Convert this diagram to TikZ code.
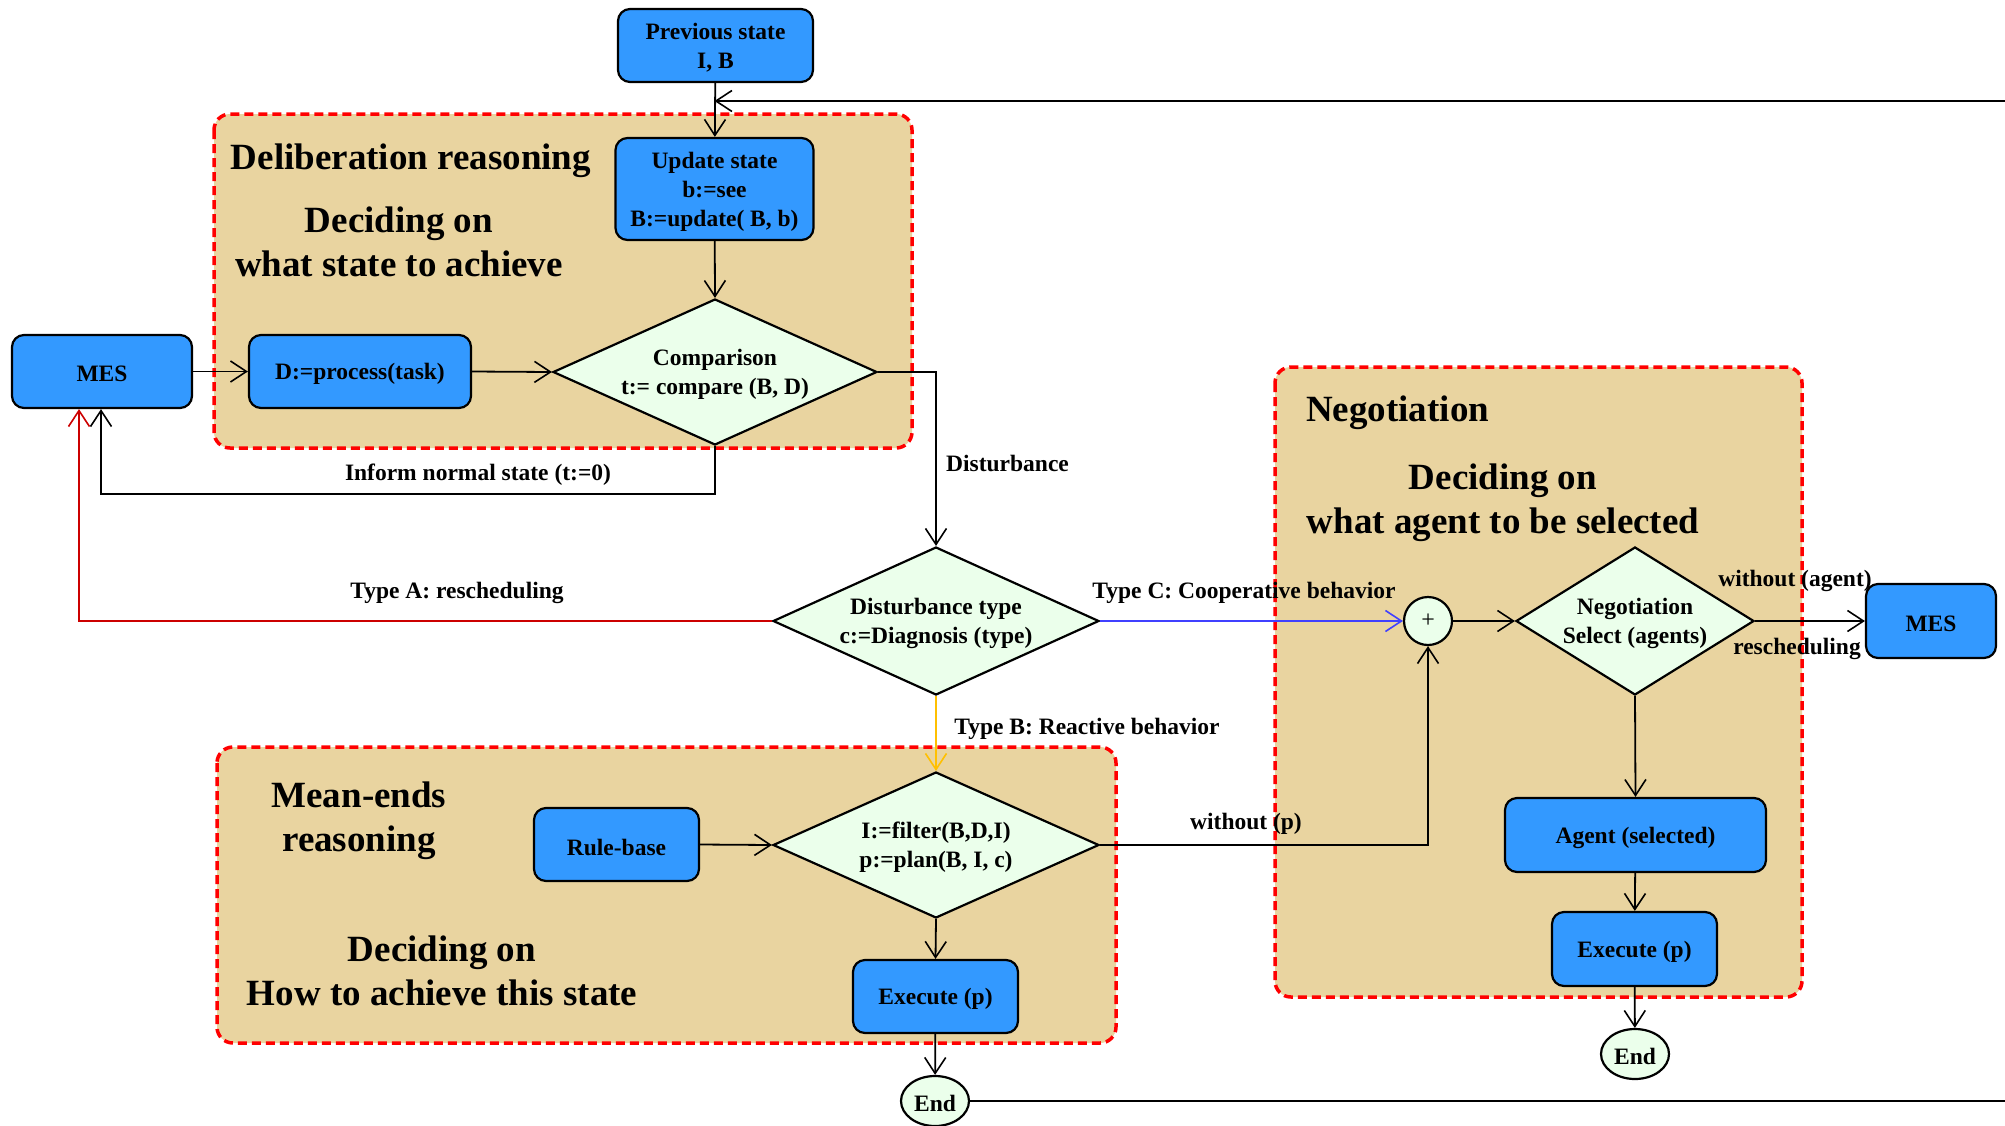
\documentclass[tikz,border=0pt]{standalone}
\usepackage{fontspec}
\setmainfont{Liberation Serif}
\usetikzlibrary{shapes.geometric,arrows.meta,calc}

\definecolor{boxblue}{RGB}{51,153,255}
\definecolor{decgreen}{RGB}{235,255,235}
\definecolor{parch}{RGB}{233,212,160}
\definecolor{areared}{RGB}{255,0,0}
\definecolor{pathA}{RGB}{204,0,0}
\definecolor{pathB}{RGB}{255,192,0}
\definecolor{pathC}{RGB}{64,64,255}

\newcommand\nodetextfont{\fontsize{23.5}{29}\selectfont\bfseries}
\newcommand\areatitlefont{\fontsize{37}{44}\selectfont\bfseries}

\tikzset{
  flow/.style={line width=1.8pt, -{Straight Barb[length=16pt,width=21pt,line width=1.6pt]}},
  plainline/.style={line width=1.8pt},
  tag/.style={font=\nodetextfont, inner sep=0pt, align=center},
  intext/.style={tag, yshift=-2.5pt},
  boxtext/.style={label={[intext]center:#1}},
  bluebox/.style={draw, line width=2.2pt, fill=boxblue, rounded corners=12pt, inner sep=0pt},
  decision/.style={draw, line width=2.2pt, fill=decgreen, diamond, inner sep=0pt},
  endnode/.style={draw, line width=2.2pt, fill=decgreen, ellipse, inner sep=0pt,
    minimum width=68pt, minimum height=50pt},
  area/.style={draw=areared, line width=3.5pt, dash pattern=on 9pt off 5pt,
    fill=parch, rounded corners=16pt},
  heading/.style={font=\areatitlefont, align=center, inner sep=0pt},
}

\begin{document}
\begin{tikzpicture}[x=1pt,y=-1pt]
\useasboundingbox (0,0) rectangle (2005,1125);

% reasoning areas
\draw[area] (214,114) rectangle (912,448);
\draw[area] (1275,367) rectangle (1802,997);
\draw[area] (217,747) rectangle (1116,1043);

% area titles
\node[heading] (delibT) at (411,161) {Deliberation reasoning};
\node[heading] (delibD) at (399,242) {Deciding on\\what state to achieve};
\node[heading, anchor=west] (negT) at (1306,413) {Negotiation};
\node[heading] (negD) at (1503,503) {Deciding on\\what agent to be selected};
\node[heading] (meanT) at (359,821) {Mean-ends\\reasoning};
\node[heading] (meanD) at (442,971) {Deciding on\\How to achieve this state};

% process boxes
\node[bluebox, minimum width=195pt, minimum height=73pt,
  boxtext={Previous state\\I, B}] (prev) at (715.5,45.5) {};
\node[bluebox, minimum width=198pt, minimum height=102pt,
  boxtext={Update state\\b:=see\\B:=update( B, b)}] (upd) at (714.5,189) {};
\node[bluebox, minimum width=180pt, minimum height=73pt, boxtext={MES}] (mesL) at (102,371.5) {};
\node[bluebox, minimum width=222pt, minimum height=73pt, boxtext={D:=process(task)}] (proc) at (360,371.5) {};
\node[bluebox, minimum width=130pt, minimum height=74pt, boxtext={MES}] (mesR) at (1931,621) {};
\node[bluebox, minimum width=261pt, minimum height=74pt, boxtext={Agent (selected)}] (agent) at (1635.5,835) {};
\node[bluebox, minimum width=165pt, minimum height=74pt, boxtext={Execute (p)}] (exR) at (1634.5,949) {};
\node[bluebox, minimum width=165pt, minimum height=73pt, boxtext={Rule-base}] (rule) at (616.5,844.5) {};
\node[bluebox, minimum width=165pt, minimum height=73pt, boxtext={Execute (p)}] (exL) at (935.5,996.5) {};

% decisions
\node[decision, minimum width=324pt, minimum height=146pt] (comp) at (715,372) {};
\node[intext] (compT) at (comp.center) {Comparison\\t:= compare (B, D)};
\node[decision, minimum width=326pt, minimum height=148pt] (dist) at (936,621) {};
\node[intext] (distT) at (dist.center) {Disturbance type\\c:=Diagnosis (type)};
\node[decision, minimum width=326pt, minimum height=146pt] (filt) at (936,845) {};
\node[intext] (filtT) at (filt.center) {I:=filter(B,D,I)\\p:=plan(B, I, c)};
\node[decision, minimum width=238pt, minimum height=148pt] (neg) at (1635,621) {};
\node[intext] (negLbl) at (neg.center) {Negotiation\\Select (agents)};

% junction and terminals
\node[draw, line width=2.2pt, fill=decgreen, circle, minimum size=48pt, inner sep=0pt,
  font=\fontsize{24}{24}\selectfont] (plus) at (1428,621) {+};
\node[endnode, boxtext={End}] (endL) at (935,1101) {};
\node[endnode, boxtext={End}] (endR) at (1635,1054) {};

% helper points
\coordinate (fbTop) at (2005,101);
\coordinate (fbEnd) at (2005,1101);
\coordinate (ret) at (101,494);
\coordinate (aret) at (79,621);

% connectors
\draw[flow] (prev) -- (upd);
\draw[flow] (fbTop) -- (fbTop -| upd.north);
\draw[flow] (upd) -- (comp.north);
\draw[flow] (mesL) -- (proc);
\draw[flow] (proc.east) -- (comp.west);
\draw[flow] (comp.east) -| (dist.north);
\draw[flow] (comp.south) |- (ret) -- (ret |- mesL.south);
\draw[flow, pathA, line width=1.5pt] (dist.west) -- (aret) -- (aret |- mesL.south);
\draw[flow, pathC, line width=1.5pt] (dist.east) -- (plus.west);
\draw[flow, pathB, line width=1.5pt] (dist.south) -- (filt.north);
\draw[flow] (filt.east) -| (plus.south);
\draw[flow] (plus.east) -- (neg.west);
\draw[flow] (neg.east) -- (mesR.west);
\draw[flow] (neg.south) -- (agent.north);
\draw[flow] (agent) -- (exR);
\draw[flow] (exR) -- (endR);
\draw[flow] (rule.east) -- (filt.west);
\draw[flow] (filt.south) -- (exL.north);
\draw[flow] (exL) -- (endL);
\draw[plainline] (endL.east) -- (fbEnd);

% connector labels
\node[tag, anchor=west] (lDist) at (946,463) {Disturbance};
\node[tag] (lInform) at (478,474.5) {Inform normal state (t:=0)};
\node[tag] (lTypeA) at (457,592.5) {Type A: rescheduling};
\node[tag] (lTypeC) at (1244,592.5) {Type C: Cooperative behavior};
\node[tag] (lTypeB) at (1087,728.5) {Type B: Reactive behavior};
\node[tag] (lWithoutP) at (1246,823.5) {without (p)};
\node[tag] (lWithoutA) at (1795,580.5) {without (agent)};
\node[tag] (lResched) at (1797,648.5) {rescheduling};
\end{tikzpicture}
\end{document}
